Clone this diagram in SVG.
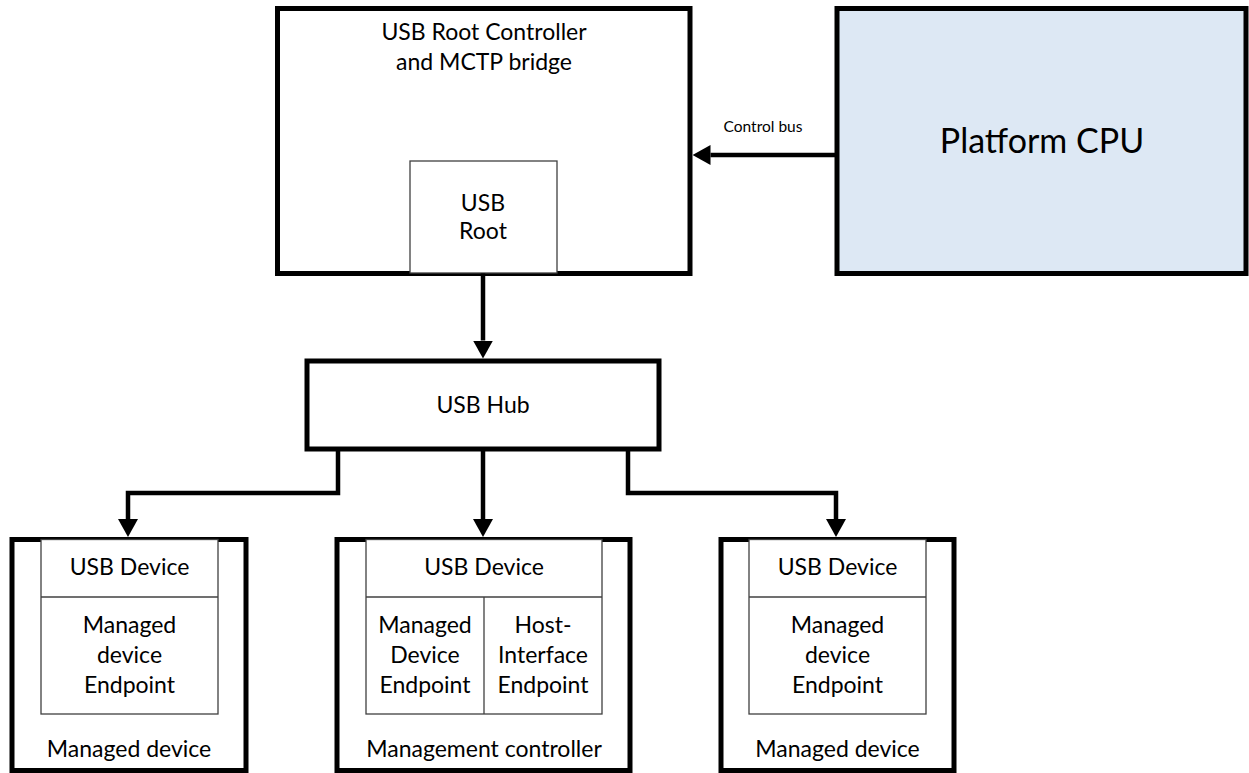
<svg xmlns="http://www.w3.org/2000/svg" width="1249" height="773" viewBox="0 0 1249 773">
  <style>
    .box { fill: #ffffff; stroke: #000000; stroke-width: 5; }
    .cpu { fill: #dde8f4; stroke: #000000; stroke-width: 5; }
    .thin { fill: #ffffff; stroke: #404040; stroke-width: 1.3; }
    .thinline { fill: none; stroke: #404040; stroke-width: 1.3; }
    .conn { fill: none; stroke: #000000; stroke-width: 4.5; }
    text { font-family: Lato, "Open Sans", "Liberation Sans", sans-serif; fill: #000000; text-anchor: middle; }
    .t { font-size: 23px; }
    .small { font-size: 15.5px; }
    .big { font-size: 34px; }
  </style>
  <defs>
    <marker id="arrow" markerUnits="userSpaceOnUse" viewBox="0 0 18 20" refX="0" refY="10" markerWidth="18" markerHeight="20" orient="auto">
      <path d="M0,0 L18,10 L0,20 Z" fill="#000000"/>
    </marker>
  </defs>

  <g id="root-controller">
    <rect class="box" x="277.5" y="8.5" width="412.5" height="265"/>
    <text class="t" x="484" y="40">USB Root Controller</text>
    <text class="t" x="484" y="70">and MCTP bridge</text>
  </g>
  <g id="usb-root">
    <rect class="thin" x="410" y="161" width="147" height="112"/>
    <text class="t" x="483" y="211">USB</text>
    <text class="t" x="483" y="239">Root</text>
  </g>

  <g id="platform-cpu">
    <rect class="cpu" x="837" y="8.5" width="409" height="265"/>
    <text class="big" x="1042" y="153">Platform CPU</text>
  </g>

  <g id="usb-hub">
    <rect class="box" x="307" y="361" width="352" height="88"/>
    <text class="t" x="483" y="413">USB Hub</text>
  </g>

  <g id="managed-device-left">
    <rect class="box" x="12" y="539.5" width="234" height="231"/>
    <rect class="thin" x="41" y="539.5" width="177" height="174.5"/>
    <line class="thinline" x1="41" y1="597" x2="218" y2="597"/>
    <text class="t" x="129.5" y="575">USB Device</text>
    <text class="t" x="129.5" y="633">Managed</text>
    <text class="t" x="129.5" y="663">device</text>
    <text class="t" x="129.5" y="693">Endpoint</text>
    <text class="t" x="129" y="757">Managed device</text>
  </g>

  <g id="management-controller">
    <rect class="box" x="337" y="539.5" width="293" height="231"/>
    <rect class="thin" x="366" y="539.5" width="236" height="174.5"/>
    <line class="thinline" x1="366" y1="597" x2="602" y2="597"/>
    <line class="thinline" x1="484" y1="597" x2="484" y2="714"/>
    <text class="t" x="484" y="575">USB Device</text>
    <text class="t" x="425" y="633">Managed</text>
    <text class="t" x="425" y="663">Device</text>
    <text class="t" x="425" y="693">Endpoint</text>
    <text class="t" x="543" y="633">Host-</text>
    <text class="t" x="543" y="663">Interface</text>
    <text class="t" x="543" y="693">Endpoint</text>
    <text class="t" x="484" y="757">Management controller</text>
  </g>

  <g id="managed-device-right">
    <rect class="box" x="721" y="539.5" width="233" height="231"/>
    <rect class="thin" x="749" y="539.5" width="177" height="174.5"/>
    <line class="thinline" x1="749" y1="597" x2="926" y2="597"/>
    <text class="t" x="837.5" y="575">USB Device</text>
    <text class="t" x="837.5" y="633">Managed</text>
    <text class="t" x="837.5" y="663">device</text>
    <text class="t" x="837.5" y="693">Endpoint</text>
    <text class="t" x="837.5" y="757">Managed device</text>
  </g>

  <g id="connectors">
    <path class="conn" d="M837,155 H710.5" marker-end="url(#arrow)"/>
    <text class="small" x="763" y="132">Control bus</text>
    <path class="conn" d="M483,273.5 V340.5" marker-end="url(#arrow)"/>
    <path class="conn" d="M338,449 V493 H128 V519" marker-end="url(#arrow)"/>
    <path class="conn" d="M483,449 V519" marker-end="url(#arrow)"/>
    <path class="conn" d="M628,449 V493 H836 V519" marker-end="url(#arrow)"/>
  </g>
</svg>
